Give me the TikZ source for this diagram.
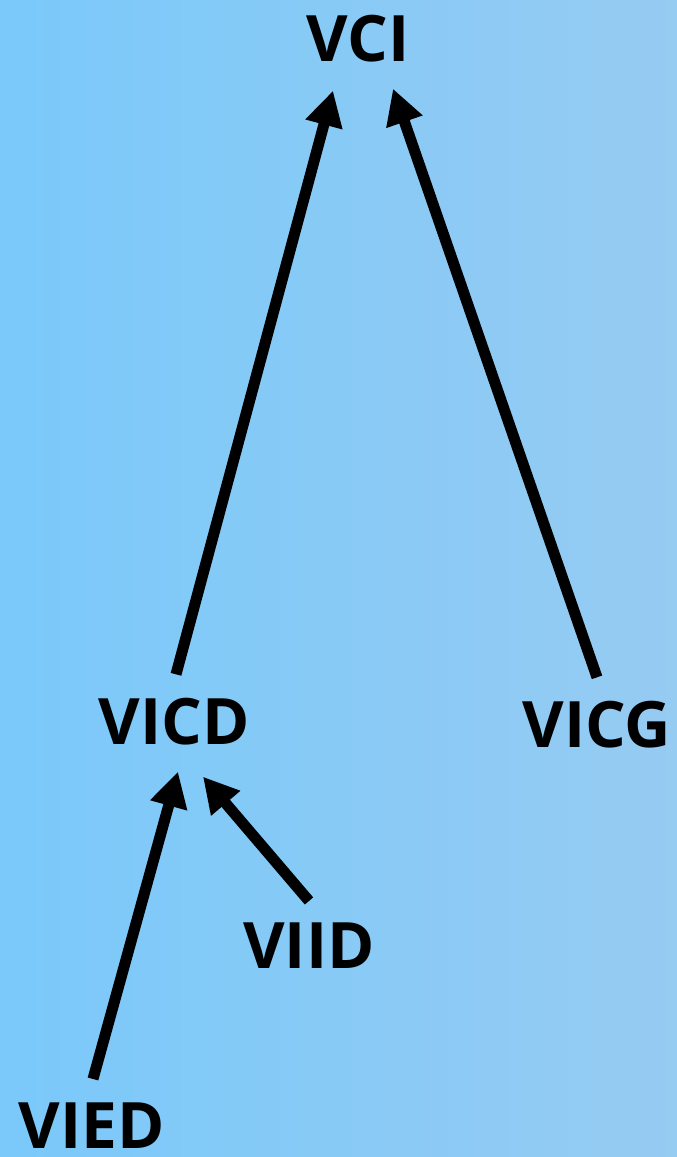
\documentclass[tikz,border=0pt]{standalone}
\usepackage{fontspec}
\setmainfont{Open Sans}
\usetikzlibrary{arrows.meta}
\definecolor{bgleft}{RGB}{122,201,250}
\definecolor{bgright}{RGB}{150,203,242}

\begin{document}
\begin{tikzpicture}[x=1pt, y=-1pt,
    lbl/.style={inner sep=0pt, font=\fontsize{64}{77}\selectfont\bfseries},
    arr/.style={line width=11pt, -{Triangle[length=35pt,width=36pt]}}]
  \shade[left color=bgleft, right color=bgright] (0,0) rectangle (677,1157);

  \node[lbl] (vci)  at (358, 39)  {VCI};
  \node[lbl] (vicd) at (174, 722) {VICD};
  \node[lbl] (vicg) at (597, 725) {VICG};
  \node[lbl] (viid) at (309, 946) {VIID};
  \node[lbl] (vied) at (92, 1126) {VIED};

  \draw[arr] ([xshift=2pt, yshift=24pt]vicd.north) -- ([xshift=-25pt, yshift=-28pt]vci.south);
  \draw[arr] ([yshift=24pt]vicg.north) -- ([xshift=35pt, yshift=-26pt]vci.south);
  \draw[arr] ([xshift=1pt, yshift=24pt]vied.north) -- ([xshift=4pt, yshift=-26pt]vicd.south);
  \draw[arr] ([yshift=22pt]viid.north) -- ([xshift=29pt, yshift=-31pt]vicd.south);
\end{tikzpicture}
\end{document}
